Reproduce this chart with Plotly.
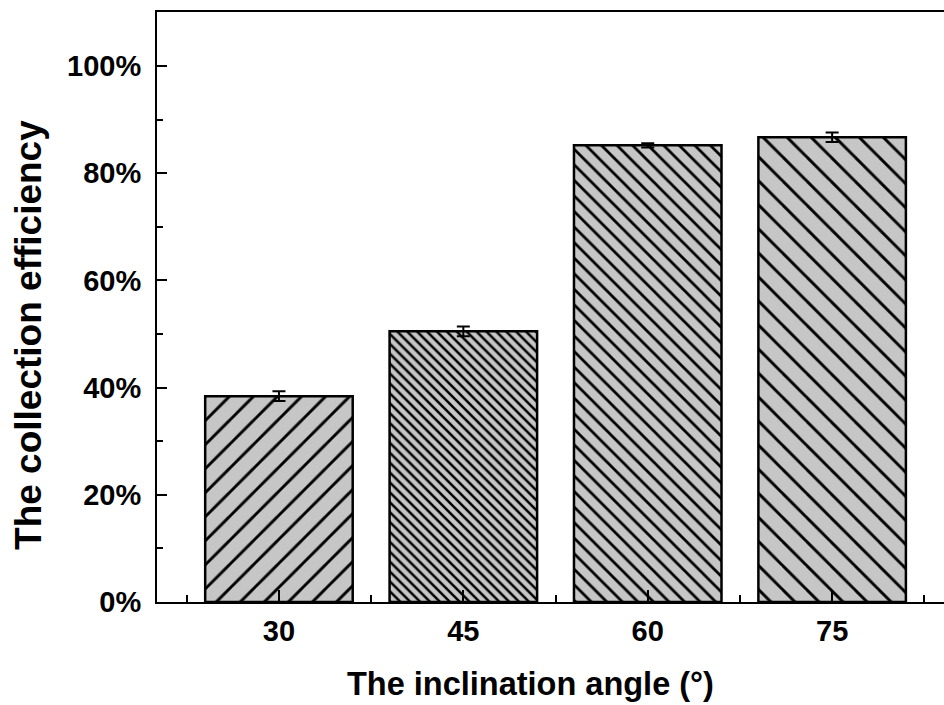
import plotly.graph_objects as go

angles = [30, 45, 60, 75]
efficiency = [0.384, 0.505, 0.852, 0.867]
errors = [0.009, 0.009, 0.004, 0.009]
hatch_shapes = ["/", "\\", "\\", "\\"]
hatch_sizes = [17, 7, 11, 17]
hatch_solidity = [0.17, 0.36, 0.25, 0.17]

tick_font = dict(family="Liberation Sans, Arial", size=29, color="black", weight="bold")

fig = go.Figure()
fig.add_trace(go.Bar(
    x=angles, y=efficiency, width=12,
    marker=dict(
        color="#c6c6c6",
        line=dict(color="black", width=2.5),
        pattern=dict(shape=hatch_shapes, size=hatch_sizes, solidity=hatch_solidity,
                     fgcolor="black", fgopacity=1, fillmode="overlay"),
    ),
    error_y=dict(type="data", array=errors, visible=True, color="black",
                 thickness=2, width=6.5),
))

fig.update_layout(
    width=944, height=705,
    margin=dict(l=157, r=0, t=12, b=103),
    plot_bgcolor="white", paper_bgcolor="white",
    showlegend=False,
    xaxis=dict(
        range=[20.08, 84.1], tickmode="linear", tick0=30, dtick=15,
        ticks="inside", ticklen=12, tickwidth=2, tickcolor="black",
        minor=dict(ticks="inside", ticklen=7, tickwidth=2, tickcolor="black",
                   tick0=22.5, dtick=15),
        showline=True, linecolor="black", linewidth=2, mirror=True,
        showgrid=False, zeroline=False, tickfont=tick_font, ticklabelstandoff=2,
    ),
    yaxis=dict(
        range=[0, 1.1007], tickmode="linear", tick0=0, dtick=0.2, tickformat=".0%",
        ticks="inside", ticklen=10, tickwidth=2, tickcolor="black",
        minor=dict(ticks="inside", ticklen=6, tickwidth=2, tickcolor="black",
                   tick0=0.1, dtick=0.2),
        showline=True, linecolor="black", linewidth=2, mirror=False,
        showgrid=False, zeroline=False, tickfont=tick_font, ticklabelstandoff=8,
    ),
    annotations=[
        dict(text="The collection efficiency", xref="paper", yref="paper",
             x=-0.164, y=0.4525, xanchor="center", yanchor="middle", textangle=-90,
             showarrow=False,
             font=dict(family="Liberation Sans, Arial", size=37, color="black", weight="bold")),
        dict(text="The inclination angle (°)", xref="paper", yref="paper",
             x=0.474, y=-0.139, xanchor="center", yanchor="middle",
             showarrow=False,
             font=dict(family="Liberation Sans, Arial", size=32.5, color="black", weight="bold")),
    ],
)

fig.write_html("out.html")
